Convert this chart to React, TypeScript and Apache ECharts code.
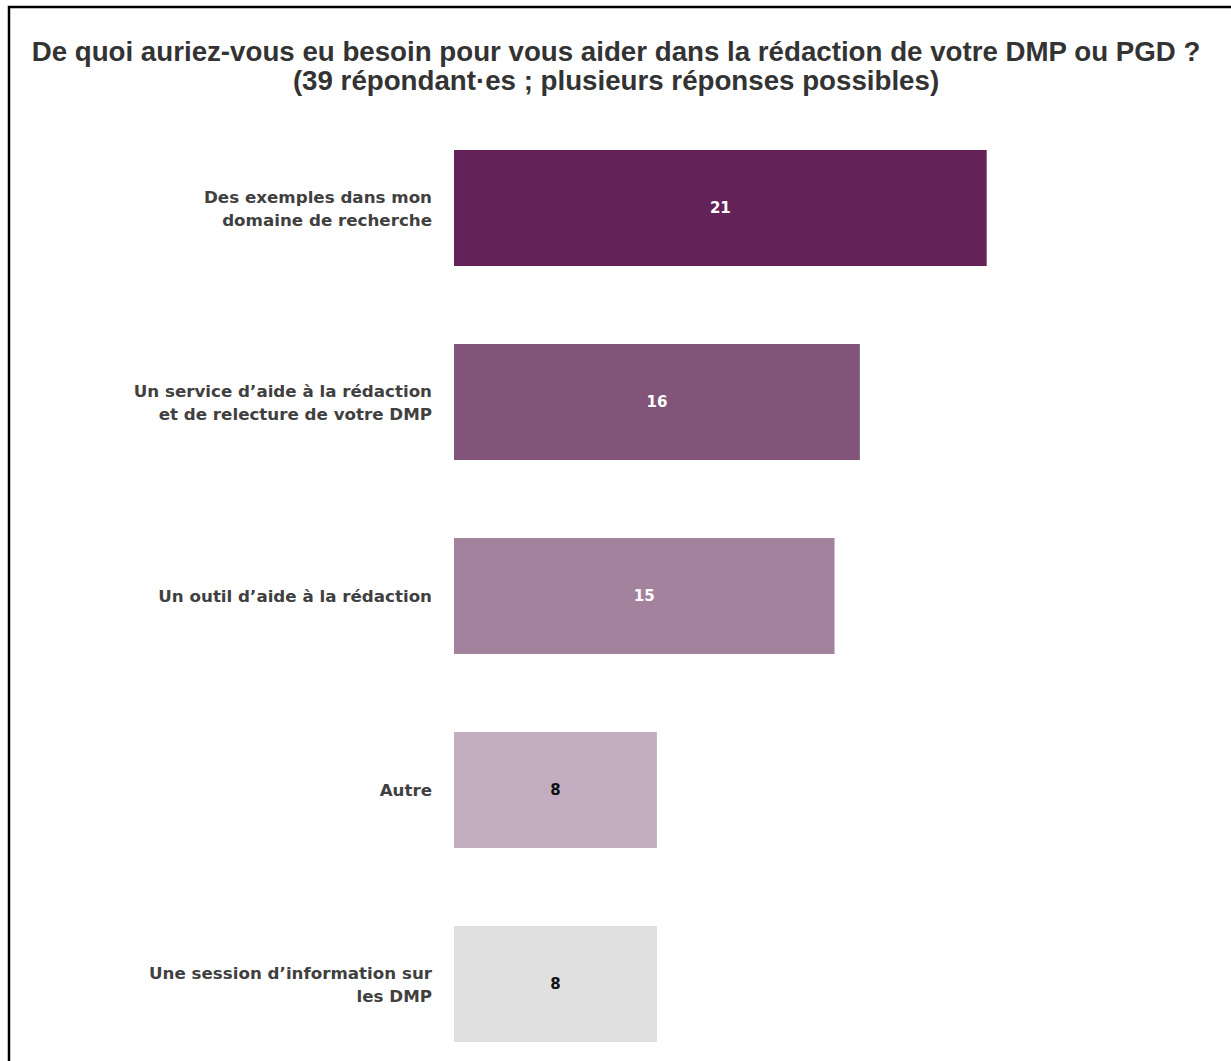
import React, { useEffect, useRef } from "react";
import * as echarts from "echarts";

const categories = [
  "Des exemples dans mon\ndomaine de recherche",
  "Un service d’aide à la rédaction\net de relecture de votre DMP",
  "Un outil d’aide à la rédaction",
  "Autre",
  "Une session d’information sur\nles DMP",
];
const values = [21, 16, 15, 8, 8];
const barColors = ["#632358", "#835479", "#a3829d", "#c2aec0", "#e0e0e0"];
const labelColors = ["#ffffff", "#ffffff", "#ffffff", "#111111", "#111111"];
const titleText =
  "De quoi auriez-vous eu besoin pour vous aider dans la rédaction de votre DMP ou PGD ?\n(39 répondant·es ; plusieurs réponses possibles)";

const titleFont = "Liberation Sans, Arial, sans-serif";
const labelFont = "DejaVu Sans, Verdana, sans-serif";

export default function App() {
  const ref = useRef<HTMLDivElement>(null);
  useEffect(() => {
    document.body.style.margin = "0";
    document.body.style.overflow = "hidden";
    const chart = echarts.init(ref.current!, null, { renderer: "svg" });
    chart.setOption({
      animation: false,
      backgroundColor: "#ffffff",
      textStyle: { fontFamily: labelFont },
      graphic: [
        {
          type: "rect",
          shape: { x: 9, y: 7, width: 1300, height: 1200 },
          style: { fill: "none", stroke: "#000000", lineWidth: 2.5 },
          silent: true,
        },
      ],
      title: {
        text: titleText,
        left: 611,
        top: 32,
        textAlign: "center",
        textStyle: {
          fontSize: 27.7,
          fontWeight: "bold",
          color: "#333333",
          lineHeight: 29,
          fontFamily: titleFont,
        },
      },
      grid: { left: 454, top: 111, width: 761, height: 970 },
      xAxis: {
        type: "value",
        min: 0,
        max: 30,
        show: false,
      },
      yAxis: {
        type: "category",
        inverse: true,
        data: categories,
        axisLine: { show: false },
        axisTick: { show: false },
        axisLabel: {
          margin: 22,
          fontSize: 16.7,
          fontWeight: "bold",
          color: "#404040",
          lineHeight: 23,
          align: "right",
          fontFamily: labelFont,
        },
      },
      series: [
        {
          type: "bar",
          barWidth: 116,
          data: values.map((v, i) => ({
            value: v,
            itemStyle: { color: barColors[i] },
            label: { color: labelColors[i] },
          })),
          label: {
            show: true,
            position: "inside",
            fontSize: 15,
            fontWeight: "bold",
            fontFamily: labelFont,
          },
        },
      ],
    });
    return () => chart.dispose();
  }, []);
  return (
    <div style={{ width: 1231, height: 1061, overflow: "hidden" }}>
      <div ref={ref} style={{ width: 1231, height: 1100 }} />
    </div>
  );
}
